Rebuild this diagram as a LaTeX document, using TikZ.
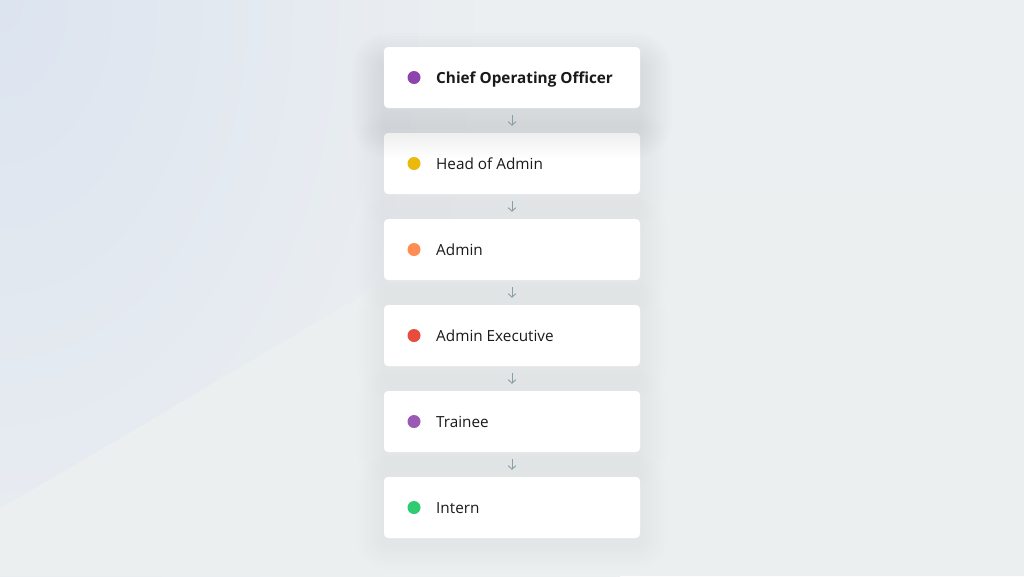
\documentclass[tikz,border=0pt]{standalone}
\usepackage{fontspec}
\setmainfont{Open Sans}
\usetikzlibrary{arrows.meta}
\definecolor{bgbase}{HTML}{ECEFF1}
\definecolor{bgblue}{HTML}{DCE4F0}
\definecolor{bglight}{HTML}{ECEFF0}
\definecolor{txt}{HTML}{1A1A1A}
\definecolor{arrowc}{HTML}{8A9EA6}
\definecolor{cpurple}{HTML}{8E44AD}
\definecolor{cyellow}{HTML}{EAB90C}
\definecolor{corange}{HTML}{FF8C52}
\definecolor{cred}{HTML}{E74C3C}
\definecolor{cviolet}{HTML}{9B59B6}
\definecolor{cgreen}{HTML}{2ECC71}
\pgfdeclareradialshading{bgrad}{\pgfpoint{0bp}{0bp}}{color(0bp)=(bgblue); color(20bp)=(bgbase); color(50bp)=(bgbase)}
\tikzset{
  card/.style={fill=white, rounded corners=4pt, minimum width=256pt, minimum height=61pt, inner sep=0pt},
  dotc/.style={circle, minimum size=13pt, inner sep=0pt},
  lbl/.style={anchor=base west, inner sep=0pt, text=txt, font=\fontsize{15.3}{17}\selectfont},
  link/.style={draw=arrowc, line width=0.9pt, -{Straight Barb[length=3.5pt,width=7.5pt]}, shorten <=7pt, shorten >=7pt},
}
\newcommand\cardshadow[5]{% y center, offset, spread step, opacity, layers
  \foreach \i in {1,...,#5}{
    \fill[black, opacity=#4, rounded corners={4+\i*#3}]
      ({384-\i*#3},{#1-30.5+#2-\i*#3}) rectangle ({640+\i*#3},{#1+30.5+#2+\i*#3});
  }
}
\begin{document}
\begin{tikzpicture}[x=1pt,y=-1pt]
\useasboundingbox (0,0) rectangle (1024,576);
% background
\fill[bgbase] (0,0) rectangle (1024,576);
\shade[shading=bgrad] (-620,-900) rectangle (620,900);
\fill[bglight] (0,508) .. controls (120,440) and (250,360) .. (420,262) -- (560,180) -- (1024,180) -- (1024,576) -- (0,576) -- cycle;
% soft shadows of lower cards
\cardshadow{163.5}{5}{3}{0.0045}{9}
\cardshadow{249.5}{5}{3}{0.0045}{9}
\cardshadow{335.5}{5}{3}{0.0045}{9}
\cardshadow{421.5}{5}{3}{0.0045}{9}
\cardshadow{507.5}{5}{3}{0.0045}{9}
% cards
\node[card] (b2) at (512,163.5) {};
\node[card] (b3) at (512,249.5) {};
\node[card] (b4) at (512,335.5) {};
\node[card] (b5) at (512,421.5) {};
\node[card] (b6) at (512,507.5) {};
% stronger shadow of the top card, falling over the next card
\cardshadow{77.5}{18}{3.2}{0.0085}{10}
\node[card] (b1) at (512,77.5) {};
% dots and labels
\node[dotc, fill=cpurple] (d1) at (414,77.5) {};
\node[dotc, fill=cyellow] (d2) at (414,163.5) {};
\node[dotc, fill=corange] (d3) at (414,249.5) {};
\node[dotc, fill=cred] (d4) at (414,335.5) {};
\node[dotc, fill=cviolet] (d5) at (414,421.5) {};
\node[dotc, fill=cgreen] (d6) at (414,507.5) {};
\node[lbl, font=\fontsize{15.3}{17}\selectfont\bfseries] (t1) at (436,83) {Chief Operating Officer};
\node[lbl] (t2) at (436,169) {Head of Admin};
\node[lbl] (t3) at (436,255) {Admin};
\node[lbl] (t4) at (436,341) {Admin Executive};
\node[lbl] (t5) at (436,427) {Trainee};
\node[lbl] (t6) at (436,513) {Intern};
% connectors
\draw[link] (b1) -- (b2);
\draw[link] (b2) -- (b3);
\draw[link] (b3) -- (b4);
\draw[link] (b4) -- (b5);
\draw[link] (b5) -- (b6);
\end{tikzpicture}
\end{document}
